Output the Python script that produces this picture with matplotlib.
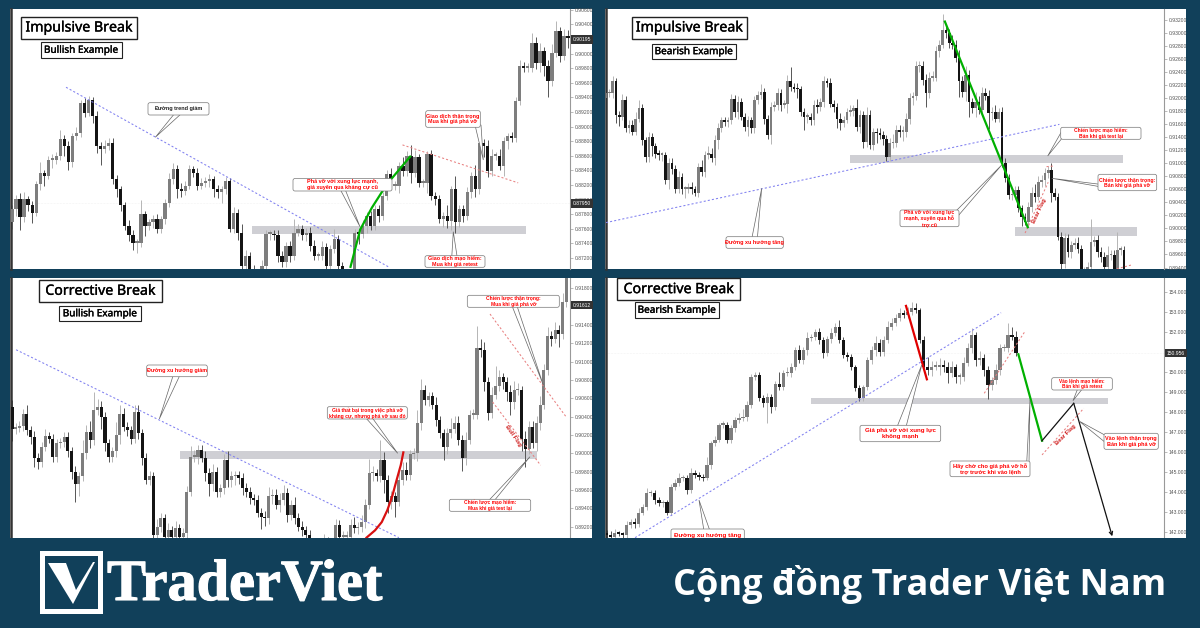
import numpy as np
import matplotlib
matplotlib.use('Agg')
import matplotlib.pyplot as plt
import matplotlib.patheffects as pe
from matplotlib.patches import Rectangle, FancyBboxPatch, Polygon

NAVY = '#11405a'

# --- Candles: close, upper wick, lower wick (pips, 1 pip = 0.0001; panel D in 0.01 yen)
a_open0 = 8770
a_close = [8787,8801,8776,8801,8792,8782,8821,8837,8833,8855,
           8855,8860,8883,8874,8851,8887,8892,8933,8919,8937,
           8915,8874,8869,8874,8878,8828,8814,8792,8764,8751,
           8741,8741,8780,8764,8769,8773,8760,8773,8796,8828,
           8842,8814,8812,8819,8842,8837,8819,8823,8826,8828,
           8814,8810,8814,8826,8760,8782,8755,8709,8723,8705,
           8691,8696,8709,8753,8753,8751,8723,8714,8737,8723,
           8755,8760,8751,8755,8737,8723,8723,8735,8709,8732,
           8746,8709,8696,8687,8696,8755,8753,8764,8778,8764,
           8787,8778,8805,8835,8819,8819,8846,8839,8860,8837,
           8858,8823,8823,8862,8805,8801,8773,8778,8771,8814,
           8769,8787,8778,8810,8833,8814,8878,8874,8839,8860,
           8860,8846,8880,8887,8885,8935,8983,8981,8981,9015,
           8987,9003,8983,8962,9001,9031,8997,9024,9022]
a_wick_up = [6,5,8,10,4,6,4,14,4,5,
             7,5,12,6,6,5,8,4,6,5,
             4,7,5,8,6,7,6,5,5,8,
             7,5,20,5,5,6,7,5,5,8,
             8,6,9,6,5,4,6,6,5,7,
             5,6,5,5,4,8,5,12,8,5,
             5,5,8,5,5,6,7,6,5,7,
             18,6,5,6,7,8,5,8,6,6,
             14,6,5,5,6,5,5,8,5,6,
             6,6,5,6,8,6,5,12,6,15,
             10,5,5,5,6,5,5,5,14,5,
             18,6,5,8,5,14,10,5,8,10,
             5,9,6,5,6,6,8,6,6,14,
             8,12,6,8,12,14,6,10,8]
a_wick_dn = [10,10,18,6,8,14,5,8,14,5,
             12,6,5,14,10,6,5,6,6,5,
             10,10,22,5,6,6,10,8,6,8,
             10,14,6,14,6,8,6,5,6,6,
             6,12,8,6,5,6,6,5,6,8,
             10,8,14,6,4,6,10,6,8,8,
             5,5,6,5,8,6,8,6,6,8,
             6,5,6,8,8,5,5,6,8,6,
             5,6,8,5,5,6,14,6,10,6,
             6,8,6,5,5,6,10,6,6,14,
             6,6,6,14,6,8,5,10,10,12,
             14,6,8,6,8,10,6,16,8,6,
             6,6,14,10,6,6,5,6,6,6,
             8,12,14,22,6,6,8,6,14]

b_open0 = 9200
b_close = [9208,9208,9226,9174,9172,9197,9154,9159,9149,9169,
           9185,9136,9110,9141,9126,9115,9113,9113,9074,9100,
           9092,9061,9079,9061,9061,9064,9061,9055,9095,9087,
           9113,9115,9108,9136,9154,9166,9164,9167,9199,9179,
           9195,9172,9156,9167,9155,9197,9205,9210,9169,9144,
           9187,9190,9208,9190,9192,9226,9218,9215,9214,9179,
           9172,9172,9167,9189,9187,9195,9226,9223,9192,9187,
           9169,9162,9167,9179,9181,9185,9156,9174,9133,9174,
           9128,9149,9146,9144,9138,9110,9131,9131,9151,
           9149,9149,9169,9200,9203,9249,9249,9228,9208,9232,
           9232,9272,9282,9305,9300,9285,9282,9262,9226,9210,
           9236,9195,9185,9195,9182,9208,9203,9177,9179,9169,
           9179,9100,9077,9051,9051,9059,9031,9018,9010,9033,
           9054,9049,9072,9074,9085,9090,9054,9049,8987,8946,
           8985,8964,8974,8977,8969,8936,8936,8941,8979,8982,
           8964,8956,8941,8959,8959,8936,8967,8967,8938]
b_wick_up = [6,6,8,5,6,10,6,8,8,10,
             12,6,5,8,6,5,6,5,5,8,
             8,5,10,6,5,6,8,5,6,10,
             6,12,8,8,8,5,6,5,8,6,
             8,5,6,6,5,6,6,12,6,5,
             8,6,8,6,5,10,22,6,8,5,
             6,5,6,8,10,6,8,6,8,6,
             6,8,6,6,8,5,14,8,6,12,
             8,6,6,8,6,5,8,14,8,
             8,8,8,8,6,8,8,8,10,8,
             10,8,8,24,6,6,12,8,12,8,
             14,8,6,14,8,10,8,10,8,10,
             6,8,8,6,10,6,6,5,5,8,
             10,14,8,8,8,6,10,8,5,8,
             8,6,6,8,10,5,5,8,35,6,
             8,8,8,14,8,8,28,6,6]
b_wick_dn = [6,6,8,12,14,6,6,8,6,6,
             6,8,8,8,14,6,8,10,5,14,
             8,6,6,8,14,6,8,5,6,6,
             8,6,6,10,14,6,6,8,6,8,
             10,6,6,14,8,8,6,6,8,6,
             14,6,8,10,5,14,6,6,14,6,
             20,10,8,8,10,6,8,6,6,8,
             14,10,6,5,6,8,6,10,10,8,
             6,8,14,6,10,6,6,8,6,
             8,14,8,8,10,6,8,8,22,8,
             6,6,8,5,8,8,6,6,24,8,
             14,24,8,14,6,8,6,24,10,6,
             6,5,5,6,8,6,6,14,5,10,
             8,8,6,8,8,8,14,6,5,14,
             6,8,10,6,6,8,5,5,8,6,
             8,8,10,6,8,5,5,8,6]

c_open0 = 9050
c_close = [9027,9028,9030,9043,9025,9018,8995,8991,9007,9019,
           9016,8996,9011,9012,9018,9002,8980,8967,8975,9000,
           9023,9014,9047,9051,9040,9011,8996,9002,9020,9043,
           9029,9025,9016,9045,9022,8995,8971,8975,8911,8920,
           8929,8909,8916,8909,8918,8909,8913,8958,8996,8996,
           9004,8995,8978,8967,8980,8958,8962,8993,8971,8975,
           8976,8973,8962,8958,8951,8949,8935,8931,8929,8953,
           8955,8944,8949,8957,8933,8944,
           8929,8920,8916,8911,8898,8898,8898,8900,8904,8898,
           8898,8922,8909,8909,8909,8922,8918,8920,8925,8944,
           8978,8978,8975,8993,8971,8947,8953,8947,8971,8982,
           8976,8999,9000,9033,9069,9058,9062,9053,9036,9022,
           9007,9022,9027,9033,9015,8995,9015,9042,9042,9115,
           9113,9078,9044,9064,9073,9083,9078,9067,9056,9069,
           9069,9016,9005,9029,9011,9033,9053,9091,9128,9125,
           9135,9130,9165,9200]
c_wick_up = [8,5,5,5,10,5,6,5,5,8,
             4,5,5,5,5,5,5,6,5,14,
             8,12,20,8,6,5,5,5,14,10,
             6,5,5,8,8,5,5,6,5,8,
             6,5,8,5,8,5,5,6,12,8,
             5,5,8,6,8,5,5,6,10,6,
             5,5,5,6,5,5,5,5,6,10,
             6,6,8,8,5,5,
             8,6,6,5,5,5,6,6,8,5,
             6,6,5,6,6,6,8,5,8,6,
             16,8,5,22,8,5,6,5,14,8,
             8,5,6,14,12,6,5,5,8,5,
             5,6,12,8,8,5,8,5,6,24,
             10,8,5,8,22,8,5,5,8,10,
             8,5,8,6,6,8,10,6,10,6,
             8,5,10,12]
c_wick_dn = [14,6,5,6,5,8,10,8,6,5,
             5,6,5,5,5,6,8,20,14,5,
             6,8,5,5,14,8,6,6,6,10,
             5,6,6,5,6,8,5,6,5,6,
             6,5,8,5,5,5,5,5,5,5,
             8,5,8,14,8,6,6,6,8,8,
             10,6,8,6,6,5,5,14,8,6,
             8,5,8,5,8,6,
             6,5,6,5,5,5,5,5,5,5,
             5,5,5,6,5,5,5,6,6,6,
             5,8,5,6,14,12,8,16,5,6,
             5,5,5,8,8,5,6,5,6,5,
             14,8,5,5,6,14,8,5,5,5,
             8,10,8,6,5,5,8,10,14,8,
             5,14,20,6,5,8,8,5,5,8,
             5,14,5,5]

d_open0 = 141.95
d_close = [141.87,141.78,141.95,141.92,141.87,142.37,142.53,142.42,142.95,143.28,
           143.95,143.95,143.62,143.45,143.53,142.95,144.28,144.45,144.70,144.70,
           144.12,144.95,144.87,144.78,144.70,145.37,146.45,146.62,147.37,147.37,
           146.62,147.20,147.62,147.70,147.78,148.37,149.78,149.87,148.70,148.45,
           148.78,148.25,149.42,149.28,149.95,149.95,150.28,151.12,150.62,151.12,
           151.70,151.78,152.03,151.62,150.95,151.65,151.95,152.28,151.62,150.87,
           150.78,150.25,149.20,148.70,149.28,150.62,151.12,151.45,151.03,151.62,
           152.28,152.45,152.70,152.95,152.87,
           153.03,153.20,153.12,151.62,150.28,150.12,150.28,150.28,150.37,150.28,
           149.95,150.28,149.78,149.78,150.45,151.20,151.87,150.62,150.70,150.12,
           149.37,149.62,150.12,151.20,151.20,151.87,151.78,150.95]
d_wick_up = [15,20,20,10,10,20,15,20,25,15,
             25,15,15,15,10,10,15,20,25,15,
             15,25,15,15,15,40,10,20,10,20,
             15,15,15,25,40,20,15,15,15,15,
             20,15,15,60,15,30,20,15,25,15,
             30,15,15,20,15,15,25,20,35,15,
             15,15,10,15,10,15,20,35,20,20,
             30,25,20,25,15,
             25,30,25,10,20,50,30,30,35,25,
             25,30,15,20,30,25,35,15,35,20,
             20,15,30,20,20,60,40,30]
d_wick_dn = [30,15,10,10,15,15,15,20,15,10,
             15,15,20,15,20,10,10,15,15,15,
             20,15,15,15,15,10,20,15,10,15,
             15,15,20,15,15,20,15,15,15,20,
             100,30,15,15,15,15,20,15,15,20,
             25,15,15,20,25,15,20,15,15,15,
             20,15,15,15,15,15,20,30,20,20,
             15,15,15,15,15,
             15,15,15,15,20,25,30,15,40,25,
             50,20,30,35,20,15,25,30,25,30,
             70,25,20,25,15,20,15,15]

# --- Axis ticks
a_ticks = [0.906,0.904,0.902,0.900,0.898,0.896,0.894,0.892,0.890,0.888,0.886,0.884,0.882,0.880,0.878,0.876,0.874,0.872]
b_ticks = [0.932,0.930,0.928,0.926,0.924,0.922,0.920,0.918,0.916,0.914,0.912,0.910,0.908,0.906,0.904,0.902,0.900,0.898,0.896,0.894]
c_ticks = [0.918,0.916,0.914,0.912,0.910,0.908,0.906,0.904,0.902,0.900,0.898,0.896,0.894,0.892]
d_ticks = [154,153,152,150,149,148,147,146,145,144,143,142]

# --- Analyst drawings on the charts, (bar, pips) or (bar, price)
a_trend_x, a_trend_y = [13.4, 93.4], [8954, 8708]
a_flag_x, a_flag_y = [96.9, 125.6], [8875, 8823]
a_move_x, a_move_y = [84.0, 86.4, 89.3, 93.0, 98.8], [8708, 8759, 8789, 8821, 8859]
b_trend_x, b_trend_y = [0, 137.4], [9009, 9160]
b_move_x, b_move_y = [102.7, 127.8], [9318, 9002]
b_flag1_x, b_flag1_y = [127, 134], [8993, 9071]
b_flag2_x, b_flag2_y = [133.5, 135.8], [9095, 9096]
b_flag3_x, b_flag3_y = [154.8, 159.3], [8938, 8944]
c_trend_x, c_trend_y = [1.1, 104], [9113, 8908]
c_flag1_x, c_flag1_y = [128.5, 149.1], [9152, 9039]
c_flag2_x, c_flag2_y = [129.2, 142.1], [9056, 8987]
c_move_x = [95.3, 97.6, 99.4, 100.9, 102.2, 103.4, 104.5, 105.2]
c_move_y = [8908, 8916, 8925, 8938, 8953, 8971, 8987, 9001]
d_trend_x, d_trend_y = [7.06, 98.3], [141.73, 152.98]
d_move_x, d_move_y = [74.6, 79.8], [153.32, 149.65]
d_flag1_x, d_flag1_y = [94.1, 104.2], [148.95, 152.03]
d_flag2_x, d_flag2_y = [108.5, 118.9], [145.87, 148.20]
d_proj_g_x, d_proj_g_y = [102.6, 108.5], [150.90, 146.58]
d_proj_k_x, d_proj_k_y = [108.5, 116.4], [146.58, 148.45]
d_proj_end = (126.0, 141.80)

fig = plt.figure(figsize=(12, 6.28), dpi=100, facecolor=NAVY)


def px_axes(z):
    # full figure axes counted in pixels from the top left, for panels and callouts
    ax = fig.add_axes([0, 0, 1, 1], zorder=z)
    ax.set_xlim(0, 1200); ax.set_ylim(628, 0)
    ax.axis('off')
    return ax


back = px_axes(0)
top = px_axes(5)


def chart(left, right, ytop, ybot, xlim, ylim, ticks, fmt, opens, closes, up, dn, unit, wick_unit):
    back.add_patch(Rectangle((left - 1, ytop), right + 23 - left, ybot - ytop, fc='white', ec='none'))
    ax = fig.add_axes([left / 1200, 1 - ybot / 628, (right - left) / 1200, (ybot - ytop) / 628], zorder=2)
    ax.patch.set_alpha(0)
    ax.set_xlim(*xlim); ax.set_ylim(*ylim)
    ax.set_xticks([])
    ax.yaxis.tick_right()
    ax.set_yticks(ticks)
    ax.set_yticklabels([fmt % t for t in ticks], fontsize=3.6, color='#555555', family='Liberation Sans')
    ax.tick_params(axis='y', length=2, width=0.4, color='#888888', pad=1.5)
    ax.spines['top'].set_visible(False); ax.spines['bottom'].set_visible(False)
    ax.spines['right'].set_color('#999999'); ax.spines['right'].set_linewidth(0.8)
    ax.spines['left'].set_color('#333333'); ax.spines['left'].set_linewidth(1.8)
    c = np.array(closes) / unit
    o = np.r_[opens / unit, c[:-1]]
    hi = np.maximum(o, c) + np.array(up) / wick_unit
    lo = np.minimum(o, c) - np.array(dn) / wick_unit
    x = np.arange(len(c))
    rising = c >= o
    ax.vlines(x[rising], lo[rising], hi[rising], color='#b5b5b5', lw=0.7, zorder=2)
    ax.vlines(x[~rising], lo[~rising], hi[~rising], color='#555555', lw=0.7, zorder=2)
    h = np.maximum(np.abs(c - o), (ylim[1] - ylim[0]) * 0.006)
    b = np.minimum(o, c)
    ax.bar(x[rising], h[rising], bottom=b[rising], width=0.82, color='#7e7e7e', lw=0, zorder=3)
    ax.bar(x[~rising], h[~rising], bottom=b[~rising], width=0.82, color='#141414', lw=0, zorder=3)
    return ax


def zone(ax, x0, x1, y0, y1):
    ax.add_patch(Rectangle((x0, y0), x1 - x0, y1 - y0, fc='#cfcfd4', ec='none', zorder=1))


def price_tag(ax, y, label):
    ax.annotate(label, (1, y), xycoords=('axes fraction', 'data'), xytext=(2, 0), textcoords='offset points',
                fontsize=3.6, color='white', va='center', family='Liberation Sans', zorder=9,
                annotation_clip=False,
                bbox=dict(boxstyle='square,pad=0.35', fc='#333333', ec='none'))


def trend(ax, x, y):
    ax.plot(x, y, color='#8080f0', lw=0.75, ls=(0, (2, 2)), zorder=4)


def flag(ax, x, y):
    ax.plot(x, y, color='#e88080', lw=0.75, ls=(0, (2, 2)), zorder=4)


def title_box(x0, y0, x1, y1, text, fs, lw):
    top.add_patch(Rectangle((x0, y0), x1 - x0, y1 - y0, fc='white', ec='#222222', lw=lw))
    t = top.text((x0 + x1) / 2, (y0 + y1) / 2 + 0.3, text, ha='center', va='center', fontsize=fs,
                 color='black', family='Noto Sans')
    t.set_path_effects([pe.withStroke(linewidth=0.25, foreground='black')])


def callout(x0, y0, x1, y1, base1, base2, tip, text, color='red', fs=4.0):
    top.add_patch(Polygon([base1, tip, base2], closed=True, fc='white', ec='#666666', lw=0.5))
    top.add_patch(FancyBboxPatch((x0 + 2, y0 + 2), x1 - x0 - 4, y1 - y0 - 4, boxstyle='round,pad=2',
                                 fc='white', ec='#777777', lw=0.5))
    top.text((x0 + x1) / 2, (y0 + y1) / 2, text, ha='center', va='center', fontsize=fs, color=color,
             fontweight='bold', family='Liberation Sans', linespacing=1.15)


# --- Panel A
ax_a = chart(11, 570, 9, 269, (-0.25, 138.46), (0.8705, 0.90612), a_ticks, '%.5f', a_open0, a_close, a_wick_up, a_wick_dn, 10000, 10000)
ax_a.axhline(0.8795, color='#e8e8e8', lw=0.4, ls=':', zorder=0)
zone(ax_a, 59.6, 127.5, 0.8753, 0.8764)
trend(ax_a, a_trend_x, np.array(a_trend_y) / 1e4)
flag(ax_a, a_flag_x, np.array(a_flag_y) / 1e4)
ax_a.plot(a_move_x, np.array(a_move_y) / 1e4, color='#00b000', lw=1.6, zorder=6)
price_tag(ax_a, 0.90195, '0.90195'); price_tag(ax_a, 0.8795, '0.87950')

# --- Panel B
ax_b = chart(605.5, 1164, 9, 269, (-0.15, 169.1), (0.89377, 0.93373), b_ticks, '%.5f', b_open0, b_close, b_wick_up, b_wick_dn, 10000, 10000)
zone(ax_b, 73.9, 156.8, 0.9101, 0.9113)
zone(ax_b, 123.9, 160.8, 0.8989, 0.9002)
trend(ax_b, b_trend_x, np.array(b_trend_y) / 1e4)
for fx, fy in [(b_flag1_x, b_flag1_y), (b_flag2_x, b_flag2_y), (b_flag3_x, b_flag3_y)]:
    flag(ax_b, fx, np.array(fy) / 1e4)
ax_b.plot(b_move_x, np.array(b_move_y) / 1e4, color='#00b000', lw=1.6, zorder=6)

# --- Panel C
ax_c = chart(11, 570, 278, 538, (-0.27, 150), (0.89076, 0.91913), c_ticks, '%.5f', c_open0, c_close, c_wick_up, c_wick_dn, 10000, 10000)
zone(ax_c, 45.2, 141.2, 0.8994, 0.9003)
trend(ax_c, c_trend_x, np.array(c_trend_y) / 1e4)
flag(ax_c, c_flag1_x, np.array(c_flag1_y) / 1e4)
flag(ax_c, c_flag2_x, np.array(c_flag2_y) / 1e4)
ax_c.plot(c_move_x, np.array(c_move_y) / 1e4, color='#d81010', lw=1.6, zorder=6)
price_tag(ax_c, 0.91618, '0.91612')

# --- Panel D
ax_d = chart(605.5, 1164, 278, 538, (-0.3, 138.9), (141.715, 154.715), d_ticks, '%.3f', d_open0, d_close, d_wick_up, d_wick_dn, 1, 100)
ax_d.axhline(150.956, color='#e8e8e8', lw=0.4, ls=':', zorder=0)
zone(ax_d, 50.9, 125, 148.40, 148.72)
trend(ax_d, d_trend_x, d_trend_y)
flag(ax_d, d_flag1_x, d_flag1_y)
flag(ax_d, d_flag2_x, d_flag2_y)
ax_d.plot(d_move_x, d_move_y, color='#e00000', lw=1.6, zorder=6)
ax_d.plot(d_proj_g_x, d_proj_g_y, color='#00b000', lw=1.6, zorder=6)
ax_d.plot(d_proj_k_x, d_proj_k_y, color='#111111', lw=0.9, zorder=6)
ax_d.annotate('', xy=d_proj_end, xytext=(d_proj_k_x[-1], d_proj_k_y[-1]), zorder=6,
              arrowprops=dict(arrowstyle='->', color='#111111', lw=0.9, mutation_scale=6, shrinkA=0, shrinkB=0))
price_tag(ax_d, 150.956, '150.956')

# --- Titles
title_box(21, 16.7, 137.3, 38.7, 'Impulsive Break', 10.2, 1.0)
title_box(40.7, 42.3, 121.7, 57.7, 'Bullish Example', 7.2, 0.8)
title_box(631.7, 16.7, 747.3, 38.7, 'Impulsive Break', 10.2, 1.0)
title_box(651.7, 43.7, 736, 59, 'Bearish Example', 7.2, 0.8)
title_box(39, 280, 161.7, 302, 'Corrective Break', 10.2, 1.0)
title_box(59.3, 306, 140.7, 321, 'Bullish Example', 7.2, 0.8)
title_box(617.3, 278.3, 740, 300.3, 'Corrective Break', 10.2, 1.0)
title_box(634.7, 302.3, 719, 317.7, 'Bearish Example', 7.2, 0.8)

# --- Callouts
callout(148, 102.7, 209, 115, (175, 113), (182, 113), (155.3, 137.3), 'Đường trend giảm', color='#222222')
callout(293, 178.5, 392, 191, (340, 189), (345, 189), (360, 226.7), 'Phá vỡ với xung lực mạnh,\ngiá xuyên qua kháng cự cũ')
callout(425.7, 110.7, 480.3, 127.3, (475, 125), (481, 125), (483.3, 160), 'Giao dịch thận trọng\nMua khi giá phá vỡ', fs=3.9)
callout(425, 255.7, 485, 267.3, (451.7, 258), (457.3, 258), (453.3, 231.7), 'Giao dịch mạo hiểm:\nMua khi giá retest', fs=3.9)
callout(726, 236.7, 783.3, 248.3, (751.7, 239), (757.3, 239), (761.7, 188.3), 'Đường xu hướng tăng', fs=3.9)
callout(900, 210, 959, 226.7, (955, 212), (958, 216), (1001.7, 165), 'Phá vỡ với xung lực\nmạnh, xuyên qua hỗ\ntrợ cũ', fs=3.7)
callout(1060.7, 127.3, 1141, 139.3, (1063, 129), (1063, 137), (1047.7, 156), 'Chiến lược mạo hiểm:\nBán khi giá test lại', fs=3.6)
callout(1098, 174.3, 1156.7, 190.7, (1100, 184.3), (1100, 186.7), (1051.7, 178.3), 'Chiến lược thận trọng:\nBán khi giá phá vỡ', fs=3.7)
callout(146.7, 365, 207.3, 376.7, (173.3, 375), (180, 375), (159.3, 419), 'Đường xu hướng giảm', fs=3.9)
callout(327.3, 406.7, 407.3, 419, (365, 417), (371.7, 417), (397.7, 453.3), 'Giá thất bại trong việc phá vỡ\nkháng cự, nhưng phá vỡ sau đó', fs=3.6)
callout(467.3, 295.3, 559.3, 307.3, (511.7, 305), (516.7, 305), (543.3, 385), 'Chiến lược thận trọng:\nMua khi giá phá vỡ', fs=3.6)
callout(449.3, 499.3, 530.7, 511.3, (488.3, 501), (494, 501), (530, 456.7), 'Chiến lược mạo hiểm:\nMua khi giá test lại', fs=3.5)
callout(671, 529, 744.3, 541, (704, 531), (710, 531), (699, 500), 'Đường xu hướng tăng', fs=4.5)
callout(860, 425.3, 940.7, 441.7, (897, 427), (906, 427), (921.7, 365), 'Giá phá vỡ với xung lực\nkhông mạnh', fs=4.4)
callout(950, 461, 1030, 476.7, (1026.7, 463), (1029, 463), (1030, 400), 'Hãy chờ cho giá phá vỡ hỗ\ntrợ trước khi vào lệnh', fs=4.15)
callout(1051.7, 377.7, 1112.3, 390, (1078, 388), (1083, 388), (1073, 400.7), 'Vào lệnh mạo hiểm:\nBán khi giá retest', fs=3.4)
callout(1104, 433.3, 1158.3, 449.3, (1106, 435.7), (1106, 443), (1079, 421), 'Vào lệnh thận trọng\nBán khi giá phá vỡ', fs=4.0)

flag_style = dict(color='#d02020', fontsize=4.2, fontweight='bold', family='Liberation Sans', ha='center', va='center')
top.text(1039, 211, 'Bear Flag', rotation=65, **flag_style)
top.text(513.3, 435.7, 'Bull Flag', rotation=-55, **flag_style)
top.text(1065.7, 434.3, 'Bear Flag', rotation=45, **flag_style)

# --- Footer
top.add_patch(Rectangle((0, 538), 1200, 90, fc=NAVY, ec='none'))
top.add_patch(Rectangle((40, 551), 63, 63, fc='white', ec='none'))
top.add_patch(Rectangle((45, 556), 53, 53, fc=NAVY, ec='none'))
top.add_patch(Polygon([(48, 563), (66, 563), (76, 590), (93, 562), (95, 562), (73, 604)], fc='white', ec='none'))
logo = top.text(107, 600, 'TraderViet', fontsize=42, fontweight='bold', color='white', family='Liberation Serif', va='baseline')
logo.set_path_effects([pe.withStroke(linewidth=0.8, foreground='white')])
top.text(1166, 595, 'Cộng đồng Trader Việt Nam', fontsize=26, fontweight='bold', color='white', family='Open Sans',
         ha='right', va='baseline')

plt.savefig('out.png', dpi=100, facecolor=NAVY)
plt.close()
